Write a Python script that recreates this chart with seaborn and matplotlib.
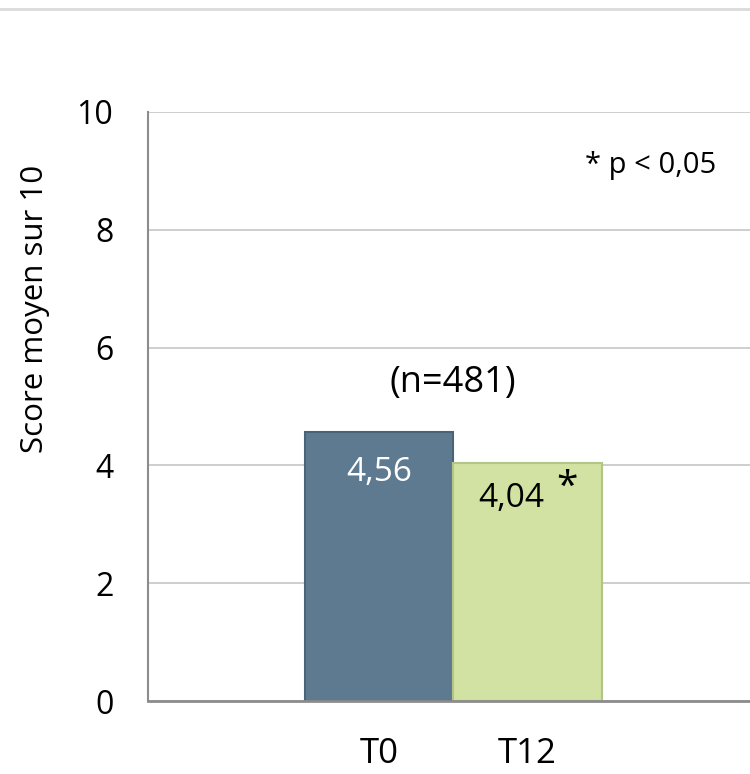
import matplotlib
matplotlib.use("Agg")
import matplotlib.pyplot as plt
import seaborn as sns
import pandas as pd
from matplotlib.lines import Line2D

categories = ["T0", "T12"]
scores = [4.56, 4.04]
value_labels = ["4,56", "4,04"]
yticks = [0, 2, 4, 6, 8, 10]
colors = ["#5e7a91", "#d1e2a2"]
edge_colors = ["#4a6376", "#b3c487"]

sns.set_theme(style="white")
plt.rcParams["font.family"] = ["Open Sans", "DejaVu Sans"]
plt.rcParams["text.color"] = "black"
plt.rcParams["xtick.color"] = "black"
plt.rcParams["ytick.color"] = "black"
plt.rcParams["axes.labelcolor"] = "black"

df = pd.DataFrame({"temps": categories, "score": scores})

fig = plt.figure(figsize=(7.5, 7.74), dpi=100)
ax = fig.add_axes([148 / 750, 73 / 774, 1 - 148 / 750, 589 / 774])

sns.barplot(data=df, x="temps", y="score", hue="temps", palette=colors,
            width=1.0, legend=False, ax=ax, saturation=1)

for p, ec in zip(ax.patches, edge_colors):
    p.set_edgecolor(ec)
    p.set_linewidth(1.5)

ax.set_xlim(-1.556, 2.5)
ax.set_ylim(0, 10)
ax.set_yticks(yticks)
ax.set_yticklabels([str(t) for t in yticks], fontsize=23)
ax.tick_params(axis="y", length=0, pad=25)
ax.tick_params(axis="x", length=0, pad=26, labelsize=25)
ax.set_xlabel("")
ax.set_ylabel("Score moyen sur 10", fontsize=22.5)
ax.yaxis.set_label_coords(-0.163, 0.665)
ax.yaxis.grid(True, color="#c6c6c6", linewidth=1.2)
ax.set_axisbelow(True)
for s in ["top", "right"]:
    ax.spines[s].set_visible(False)
ax.spines["left"].set_color("#8c8c8c")
ax.spines["left"].set_linewidth(1.5)
ax.spines["bottom"].set_color("#8c8c8c")
ax.spines["bottom"].set_linewidth(2)

# value labels
ax.text(0, 4.56 - 0.68, value_labels[0], ha="center", va="center",
        fontsize=24, color="white")
ax.text(0.89, 4.04 - 0.6, value_labels[1], ha="center", va="center",
        fontsize=24, color="black")
ax.text(1.27, 4.04 - 0.42, "*", ha="center", va="center",
        fontsize=28, color="black")
ax.text(0.5, 5.4, "(n=481)", ha="center", va="center", fontsize=26,
        color="black")
ax.text(1.83, 9.1, "* p < 0,05", ha="center", va="center", fontsize=21,
        color="black")

fig.add_artist(Line2D([0, 1], [1 - 8.5 / 774] * 2, color="#dadada",
                      linewidth=2, transform=fig.transFigure))

fig.savefig("out.png", dpi=100)
